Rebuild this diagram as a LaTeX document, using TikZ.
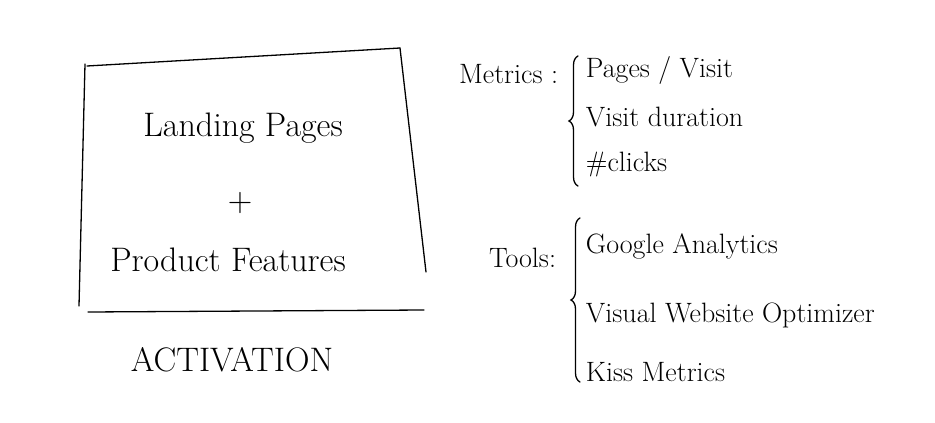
\documentclass[tikz,border=0pt]{standalone}
\usetikzlibrary{decorations.pathreplacing}
\begin{document}
\begin{tikzpicture}[x=1pt, y=-1pt, line width=1.3pt, line cap=round,
  hand/.style={font=\fontsize{28}{32}\selectfont},
  big/.style={font=\fontsize{34}{38}\selectfont},
  item/.style={hand, anchor=west},
  curly/.style={decorate, decoration={brace, amplitude=9pt}}]
\useasboundingbox (0,0) rectangle (935,423);
% the box
\draw (87,66)--(400,48);
\draw (400,48)--(426,272);
\draw (85,64)--(79,306);
\draw (88,312)--(424,310);
\node[big] (land) at (243,128) {Landing Pages};
\node[big] (plus) at (240,203) {+};
\node[big] (feat) at (228,260) {Product Features};
\node[big] (act) at (232,360) {ACTIVATION};
% metrics
\node[hand, anchor=east] (met) at (562,74) {Metrics :};
\draw[curly] (578,186)--(578,56);
\node[item] (pv) at (582,70) {Pages / Visit};
\node[item] (vd) at (582,117) {Visit duration};
\node[item] (cl) at (582,165) {\#clicks};
% tools
\node[hand, anchor=east] (tool) at (560,258) {Tools:};
\draw[curly] (580,382)--(580,218);
\node[item] (ga) at (582,246) {Google Analytics};
\node[item] (vwo) at (582,315) {Visual Website Optimizer};
\node[item] (km) at (582,372) {Kiss Metrics};
\end{tikzpicture}
\end{document}
